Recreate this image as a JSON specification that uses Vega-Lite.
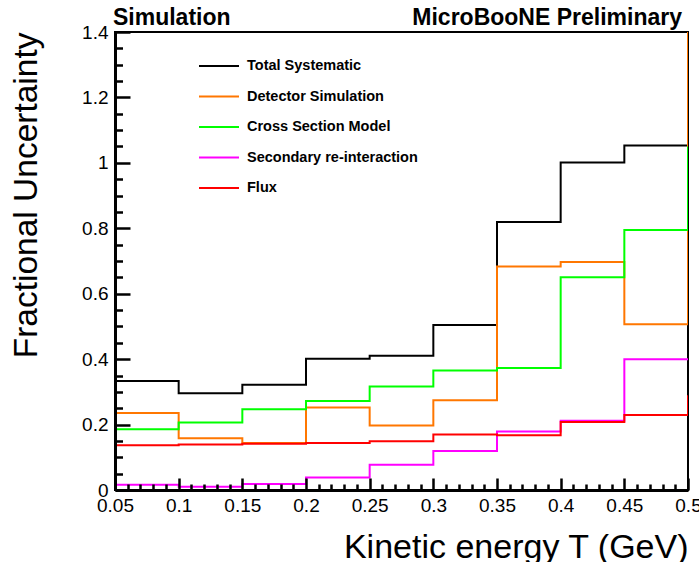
{
  "$schema": "https://vega.github.io/schema/vega-lite/v6.json",
  "width": 573,
  "height": 458,
  "autosize": {"type": "none"},
  "padding": {"left": 115, "top": 32, "right": 11, "bottom": 72},
  "background": "white",
  "config": {
    "view": {"stroke": "black", "strokeWidth": 2},
    "font": "Liberation Sans"
  },
  "data": {
    "values": [
      {"series": "Total Systematic", "T": 0.05, "u": 0.333},
      {"series": "Total Systematic", "T": 0.1, "u": 0.296},
      {"series": "Total Systematic", "T": 0.15, "u": 0.322},
      {"series": "Total Systematic", "T": 0.2, "u": 0.401},
      {"series": "Total Systematic", "T": 0.25, "u": 0.41},
      {"series": "Total Systematic", "T": 0.3, "u": 0.504},
      {"series": "Total Systematic", "T": 0.35, "u": 0.819},
      {"series": "Total Systematic", "T": 0.4, "u": 1.001},
      {"series": "Total Systematic", "T": 0.45, "u": 1.053},
      {"series": "Total Systematic", "T": 0.5, "u": 0},
      {"series": "Detector Simulation", "T": 0.05, "u": 0.235},
      {"series": "Detector Simulation", "T": 0.1, "u": 0.158},
      {"series": "Detector Simulation", "T": 0.15, "u": 0.144},
      {"series": "Detector Simulation", "T": 0.2, "u": 0.252},
      {"series": "Detector Simulation", "T": 0.25, "u": 0.197},
      {"series": "Detector Simulation", "T": 0.3, "u": 0.274},
      {"series": "Detector Simulation", "T": 0.35, "u": 0.683},
      {"series": "Detector Simulation", "T": 0.4, "u": 0.697},
      {"series": "Detector Simulation", "T": 0.45, "u": 0.507},
      {"series": "Detector Simulation", "T": 0.5, "u": 1.5},
      {"series": "Cross Section Model", "T": 0.05, "u": 0.186},
      {"series": "Cross Section Model", "T": 0.1, "u": 0.206},
      {"series": "Cross Section Model", "T": 0.15, "u": 0.247},
      {"series": "Cross Section Model", "T": 0.2, "u": 0.272},
      {"series": "Cross Section Model", "T": 0.25, "u": 0.316},
      {"series": "Cross Section Model", "T": 0.3, "u": 0.365},
      {"series": "Cross Section Model", "T": 0.35, "u": 0.373},
      {"series": "Cross Section Model", "T": 0.4, "u": 0.65},
      {"series": "Cross Section Model", "T": 0.45, "u": 0.795},
      {"series": "Cross Section Model", "T": 0.5, "u": 1.05},
      {"series": "Secondary re-interaction", "T": 0.05, "u": 0.016},
      {"series": "Secondary re-interaction", "T": 0.1, "u": 0.01},
      {"series": "Secondary re-interaction", "T": 0.15, "u": 0.018},
      {"series": "Secondary re-interaction", "T": 0.2, "u": 0.038},
      {"series": "Secondary re-interaction", "T": 0.25, "u": 0.077},
      {"series": "Secondary re-interaction", "T": 0.3, "u": 0.119},
      {"series": "Secondary re-interaction", "T": 0.35, "u": 0.179},
      {"series": "Secondary re-interaction", "T": 0.4, "u": 0.212},
      {"series": "Secondary re-interaction", "T": 0.45, "u": 0.4},
      {"series": "Secondary re-interaction", "T": 0.5, "u": 0.4},
      {"series": "Flux", "T": 0.05, "u": 0.137},
      {"series": "Flux", "T": 0.1, "u": 0.139},
      {"series": "Flux", "T": 0.15, "u": 0.141},
      {"series": "Flux", "T": 0.2, "u": 0.144},
      {"series": "Flux", "T": 0.25, "u": 0.149},
      {"series": "Flux", "T": 0.3, "u": 0.17},
      {"series": "Flux", "T": 0.35, "u": 0.167},
      {"series": "Flux", "T": 0.4, "u": 0.208},
      {"series": "Flux", "T": 0.45, "u": 0.229},
      {"series": "Flux", "T": 0.5, "u": 0.29}
    ]
  },
  "layer": [
    {
      "mark": {"type": "line", "interpolate": "step-after", "strokeWidth": 2, "clip": true},
      "encoding": {
        "x": {
          "field": "T", "type": "quantitative",
          "scale": {"domain": [0.05, 0.5], "nice": false, "zero": false},
          "axis": {
            "orient": "bottom", "offset": -12,
            "values": [0.05, 0.1, 0.15, 0.2, 0.25, 0.3, 0.35, 0.4, 0.45, 0.5],
            "format": "~g",
            "ticks": true, "tickSize": 12, "tickWidth": 2.5, "tickColor": "black",
            "domain": false,
            "labelFont": "Liberation Sans", "labelFontSize": 19, "labelColor": "black",
            "labelPadding": 6, "labelFlush": false, "labelOverlap": false,
            "grid": false,
            "title": "Kinetic energy T (GeV)", "titleFont": "Liberation Sans",
            "titleFontSize": 34, "titleFontWeight": "normal", "titleColor": "black",
            "titleAnchor": "end", "titlePadding": 15,
            "zindex": 1
          }
        },
        "y": {
          "field": "u", "type": "quantitative",
          "scale": {"domain": [0, 1.4], "nice": false, "zero": false},
          "axis": {
            "orient": "left", "offset": -15,
            "values": [0, 0.2, 0.4, 0.6, 0.8, 1, 1.2, 1.4],
            "format": "~g",
            "ticks": true, "tickSize": 15, "tickWidth": 2.5, "tickColor": "black",
            "domain": false,
            "labelFont": "Liberation Sans", "labelFontSize": 19, "labelColor": "black",
            "labelPadding": 7, "labelFlush": false, "labelOverlap": false,
            "grid": false,
            "title": "Fractional Uncertainty", "titleFont": "Liberation Sans",
            "titleFontSize": 33.5, "titleFontWeight": "normal", "titleColor": "black",
            "titleAnchor": "end", "titlePadding": 38,
            "zindex": 1
          }
        },
        "color": {
          "field": "series", "type": "nominal",
          "scale": {
            "domain": ["Total Systematic", "Detector Simulation", "Cross Section Model", "Secondary re-interaction", "Flux"],
            "range": ["#000000", "#ff7700", "#00ff00", "#ff00ff", "#ff0000"]
          },
          "legend": {
            "orient": "none", "legendX": 83, "legendY": 13,
            "title": null, "padding": 0,
            "symbolType": "stroke", "symbolSize": 1600, "symbolStrokeWidth": 2,
            "labelFont": "Liberation Sans", "labelFontSize": 14.5, "labelFontWeight": "bold",
            "labelColor": "black", "labelOffset": 7, "labelLimit": 0,
            "rowPadding": 2.5
          }
        }
      }
    },
    {
      "data": {"values": [{"label": "Simulation"}]},
      "mark": {"type": "text", "align": "left", "baseline": "alphabetic", "dy": -7, "dx": -2, "fontWeight": "bold", "fontSize": 23, "font": "Liberation Sans", "color": "black", "clip": false},
      "encoding": {
        "x": {
          "datum": 0.05, "type": "quantitative",
          "axis": {
            "orient": "bottom", "offset": -6,
            "values": [0.06, 0.07, 0.08, 0.09, 0.11, 0.12, 0.13, 0.14, 0.16, 0.17, 0.18, 0.19, 0.21, 0.22, 0.23, 0.24, 0.26, 0.27, 0.28, 0.29, 0.31, 0.32, 0.33, 0.34, 0.36, 0.37, 0.38, 0.39, 0.41, 0.42, 0.43, 0.44, 0.46, 0.47, 0.48, 0.49],
            "ticks": true, "tickSize": 6, "tickWidth": 2.5, "tickColor": "black",
            "labels": false, "domain": false, "grid": false, "title": null,
            "zindex": 1
          }
        },
        "y": {
          "datum": 1.4, "type": "quantitative",
          "axis": {
            "orient": "left", "offset": -7.5,
            "values": [0.05, 0.1, 0.15, 0.25, 0.3, 0.35, 0.45, 0.5, 0.55, 0.65, 0.7, 0.75, 0.85, 0.9, 0.95, 1.05, 1.1, 1.15, 1.25, 1.3, 1.35],
            "ticks": true, "tickSize": 7.5, "tickWidth": 2.5, "tickColor": "black",
            "labels": false, "domain": false, "grid": false, "title": null,
            "zindex": 1
          }
        },
        "text": {"field": "label"}
      }
    },
    {
      "data": {"values": [{"label": "MicroBooNE Preliminary"}]},
      "mark": {"type": "text", "align": "right", "baseline": "alphabetic", "dy": -7, "dx": -6, "fontWeight": "bold", "fontSize": 23, "font": "Liberation Sans", "color": "black", "clip": false},
      "encoding": {
        "x": {
          "datum": 0.5, "type": "quantitative",
          "axis": {"orient": "bottom", "ticks": false, "labels": false, "grid": false, "title": null, "domain": true, "domainColor": "black", "domainWidth": 3, "zindex": 1}
        },
        "y": {
          "datum": 1.4, "type": "quantitative",
          "axis": {"orient": "left", "ticks": false, "labels": false, "grid": false, "title": null, "domain": true, "domainColor": "black", "domainWidth": 3, "zindex": 1}
        },
        "text": {"field": "label"}
      }
    }
  ],
  "resolve": {"axis": {"x": "independent", "y": "independent"}}
}
